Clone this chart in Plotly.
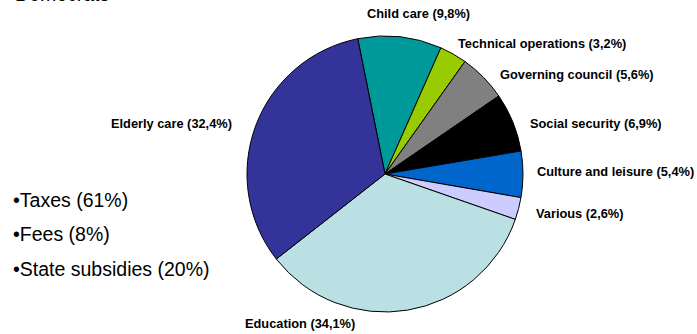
import math
import plotly.graph_objects as go

categories = ["Child care", "Technical operations", "Governing council", "Social security",
              "Culture and leisure", "Various", "Education", "Elderly care"]
shares = [9.8, 3.2, 5.6, 6.9, 5.4, 2.6, 34.1, 32.4]
share_labels = ["9,8%", "3,2%", "5,6%", "6,9%", "5,4%", "2,6%", "34,1%", "32,4%"]
colors = ["#009999", "#99CC00", "#808080", "#000000", "#0066CC", "#CCCCFF", "#BBE0E3", "#333399"]
income_lines = ["•Taxes (61%)", "•Fees (8%)", "•State subsidies (20%)"]
title_text = "Democrats"

W, H = 697, 334
CX, CY, R = 385, 174, 138
ROT = -11.4
LABEL_R = 152
nudges = {"Child care": (17, -9), "Technical operations": (-4, 2), "Governing council": (5, 7),
          "Social security": (2, 6), "Culture and leisure": (-2, -3), "Various": (2, 1),
          "Education": (-110, 0), "Elderly care": (-8, 2)}

fig = go.Figure()
fig.add_trace(go.Pie(
    labels=categories, values=shares, sort=False, direction="clockwise", rotation=ROT,
    marker=dict(colors=colors, line=dict(color="#000000", width=1)),
    textinfo="none", hoverinfo="label+percent", showlegend=False,
    domain=dict(x=[(CX - R) / W, (CX + R) / W], y=[1 - (CY + R) / H, 1 - (CY - R) / H]),
))

total = sum(shares)
cum = 0.0
for cat, v, lab in zip(categories, shares, share_labels):
    theta = math.radians(ROT + 360 * (cum + v / 2) / total)
    cum += v
    px = CX + LABEL_R * math.sin(theta)
    py = CY - LABEL_R * math.cos(theta)
    s = math.sin(theta)
    anchor = "left" if s > 0.3 else ("right" if s < -0.3 else "center")
    dx, dy = nudges.get(cat, (0, 0))
    fig.add_annotation(
        x=(px + dx) / W, y=1 - (py + dy) / H, xref="paper", yref="paper",
        text=f"<b>{cat} ({lab})</b>", showarrow=False, xanchor=anchor, yanchor="middle",
        font=dict(family="Liberation Sans, Arial", size=12.8, color="#000000"),
    )

for i, line in enumerate(income_lines):
    fig.add_annotation(
        x=11 / W, y=1 - (200 + 34.5 * i) / H, xref="paper", yref="paper",
        text=line, showarrow=False, xanchor="left", yanchor="middle",
        font=dict(family="Liberation Sans, Arial", size=19.5, color="#000000"),
    )

fig.add_annotation(
    x=13 / W, y=1, xref="paper", yref="paper", text=title_text, showarrow=False,
    xanchor="left", yanchor="bottom", yshift=-7.5,
    font=dict(family="Liberation Sans, Arial", size=19.5, color="#000000"),
)

fig.update_layout(
    width=W, height=H, margin=dict(l=0, r=0, t=0, b=0),
    paper_bgcolor="#FFFFFF", plot_bgcolor="#FFFFFF",
)
fig.write_html("out.html")
